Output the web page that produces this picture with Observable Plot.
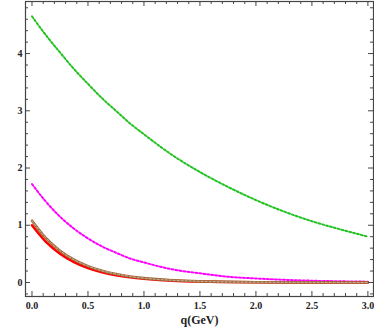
<!DOCTYPE html>
<html>
<head>
<meta charset="utf-8">
<script src="https://cdn.jsdelivr.net/npm/d3@7"></script>
<script src="https://cdn.jsdelivr.net/npm/@observablehq/plot@0.6"></script>
<style>
  html, body { margin: 0; padding: 0; background: #fff; }
  #chart svg { display: block; }
</style>
</head>
<body>
<div id="chart"></div>
<script>
const q       = [0, 0.125, 0.25, 0.375, 0.5, 0.625, 0.75, 0.875, 1.0, 1.25, 1.5, 1.75, 2.0, 2.25, 2.5, 2.75, 3.0];
const green   = [4.65, 4.32, 4.02, 3.73, 3.47, 3.22, 3.00, 2.78, 2.59, 2.23, 1.93, 1.67, 1.44, 1.24, 1.07, 0.93, 0.80];
const magenta = [1.72, 1.41, 1.15, 0.94, 0.77, 0.63, 0.52, 0.42, 0.35, 0.23, 0.16, 0.10, 0.070, 0.047, 0.031, 0.021, 0.014];
const brown   = [1.08, 0.774, 0.555, 0.398, 0.286, 0.205, 0.147, 0.105, 0.0755, 0.039, 0.020, 0.010, 0.0053, 0.0027, 0.0014, 0.0007, 0.0004];
const red     = [1.00, 0.709, 0.503, 0.357, 0.253, 0.179, 0.127, 0.090, 0.064, 0.032, 0.016, 0.008, 0.004, 0.002, 0.001, 0.0005, 0.0003];

const xMajor = [0, 0.5, 1.0, 1.5, 2.0, 2.5, 3.0];
const xMinor = d3.range(0, 30.5, 1).map(d => d / 10).filter(d => !xMajor.includes(d));
const yMajor = [0, 1, 2, 3, 4];
const yMinor = d3.range(-1, 25, 1).map(d => d / 5).filter(d => !yMajor.some(m => Math.abs(m - d) < 1e-9) && d > -0.24);

const toRows = ys => q.map((x, i) => ({q: x, v: ys[i]}));

const W = 374, H = 329, mL = 25, mR = 1, mT = 1, mB = 33;
const innerH = H - mT - mB, innerW = W - mL - mR;
const font = "'Liberation Serif', 'DejaVu Serif', serif";

const chart = Plot.plot({
  width: W, height: H,
  marginLeft: mL, marginRight: mR, marginTop: mT, marginBottom: mB,
  x: {domain: [-0.058, 3.05]},
  y: {domain: [-0.245, 4.91]},
  style: {fontFamily: font, fontWeight: "bold", background: "#fff"},
  marks: [
    Plot.line(toRows(green), {x: "q", y: "v", stroke: "#22c222", strokeWidth: 2, strokeDasharray: "2,2", curve: "monotone-x"}),
    Plot.line(toRows(magenta), {x: "q", y: "v", stroke: "#ff00ff", strokeWidth: 2, strokeDasharray: "2,2", curve: "monotone-x"}),
    Plot.line(toRows(red), {x: "q", y: "v", stroke: "#ff0000", strokeWidth: 2.6, curve: "monotone-x"}),
    Plot.line(toRows(brown), {x: "q", y: "v", stroke: "#a06a3a", strokeWidth: 2.6, curve: "monotone-x"}),
    Plot.line(toRows(brown), {x: "q", y: "v", stroke: "#c9b8a4", strokeWidth: 1, strokeDasharray: "2,2", curve: "monotone-x"}),
    Plot.frame({stroke: "#444", strokeWidth: 1.2}),
    Plot.tickX(xMajor, {x: d => d, insetTop: innerH - 5, stroke: "#444"}),
    Plot.tickX(xMajor, {x: d => d, insetBottom: innerH - 5, stroke: "#444"}),
    Plot.tickX(xMinor, {x: d => d, insetTop: innerH - 3, stroke: "#444"}),
    Plot.tickX(xMinor, {x: d => d, insetBottom: innerH - 3, stroke: "#444"}),
    Plot.tickY(yMajor, {y: d => d, insetRight: innerW - 5, stroke: "#444"}),
    Plot.tickY(yMajor, {y: d => d, insetLeft: innerW - 5, stroke: "#444"}),
    Plot.tickY(yMinor, {y: d => d, insetRight: innerW - 3, stroke: "#444"}),
    Plot.tickY(yMinor, {y: d => d, insetLeft: innerW - 3, stroke: "#444"}),
    Plot.axisX({ticks: xMajor, tickFormat: d3.format(".1f"), tickSize: 0, tickPadding: 5, label: null, fontSize: 10, fill: "#222"}),
    Plot.axisY({ticks: yMajor, tickFormat: d3.format("d"), tickSize: 0, tickPadding: 3, label: null, fontSize: 10, fill: "#222"}),
    Plot.text(["q(GeV)"], {frameAnchor: "bottom", dy: 27, fontSize: 12, fontWeight: "bold", fill: "#222"})
  ]
});
document.getElementById("chart").appendChild(chart);
</script>
</body>
</html>
